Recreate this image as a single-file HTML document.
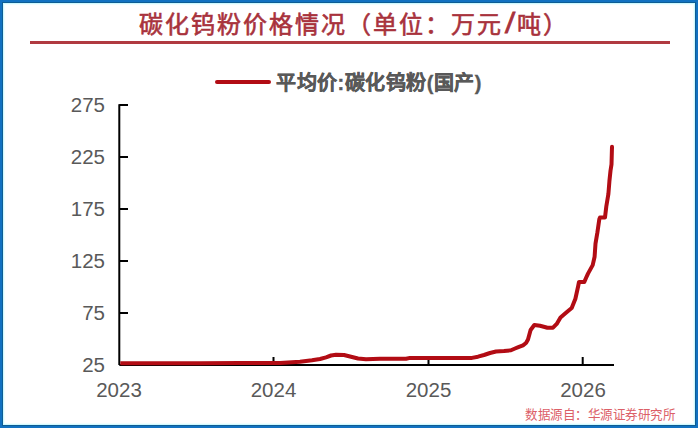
<!DOCTYPE html>
<html lang="zh-CN">
<head>
<meta charset="utf-8">
<style>
html,body{margin:0;padding:0;}
body{width:698px;height:428px;overflow:hidden;background:#1171c1;position:relative;font-family:"Liberation Sans",sans-serif;}
#edge{position:absolute;left:2px;top:2px;width:694px;height:424px;background:#0d5d94;}
#inner{position:absolute;left:3px;top:3px;width:692px;height:422px;background:#fff;box-shadow:inset 0 0 0 1px #cff9ff, inset 0 0 1px 2px #effeff;}
.t{position:absolute;white-space:nowrap;}
#title{left:139px;top:9.5px;font-family:"Liberation Serif",serif;font-weight:normal;-webkit-text-stroke:0.6px #a8323c;font-size:24px;letter-spacing:2px;color:#a8323c;line-height:30px;}
#title .sl{display:inline-block;width:14px;text-align:center;letter-spacing:0;font-size:24px;transform:translateY(-1.5px) scale(1.45,1.3);transform-origin:50% 60%;font-weight:bold;}
#rule{position:absolute;left:30px;top:41px;width:640px;height:3px;background:#b03a40;}
#legline{position:absolute;left:215px;top:80px;width:55.5px;height:4px;border-radius:2px;background:#b20c14;}
#legtext{left:276px;top:70px;font-size:20px;font-weight:bold;color:#595959;-webkit-text-stroke:0.35px #595959;line-height:26px;letter-spacing:0.5px;}
.yl{position:absolute;right:593px;font-size:20.5px;color:#595959;line-height:20px;text-align:right;}
.xl{position:absolute;font-size:20.5px;color:#595959;line-height:20px;width:60px;text-align:center;top:380px;}
#src{left:525px;top:406.5px;font-size:13px;color:#dc6068;line-height:16px;transform:scaleX(0.965);transform-origin:0 0;}
svg{position:absolute;left:0;top:0;}
</style>
</head>
<body>
<div id="edge"></div>
<div id="inner"></div>
<div class="t" id="title">碳化钨粉价格情况（单位：万元<span class="sl">/</span>吨）</div>
<div id="rule"></div>
<div id="legline"></div>
<div class="t" id="legtext">平均价:碳化钨粉(国产)</div>
<div class="yl" style="top:95px">275</div>
<div class="yl" style="top:147px">225</div>
<div class="yl" style="top:199px">175</div>
<div class="yl" style="top:251px">125</div>
<div class="yl" style="top:303px">75</div>
<div class="yl" style="top:355px">25</div>
<div class="xl" style="left:89px">2023</div>
<div class="xl" style="left:243.5px">2024</div>
<div class="xl" style="left:398.5px">2025</div>
<div class="xl" style="left:553px">2026</div>
<svg width="698" height="428" viewBox="0 0 698 428">
<g stroke="#000" stroke-width="2" fill="none">
<path d="M119.3 104.2 V365 M119.3 365 H614"/>
<path d="M119.3 105.1 H128 M119.3 157 H128 M119.3 209 H128 M119.3 261 H128 M119.3 313 H128"/>
<path d="M273.5 357 V365 M428.5 357 V365 M582.7 357 V365"/>
</g>
<path stroke="#b20c14" stroke-width="4" fill="none" stroke-linejoin="round" stroke-linecap="butt"
d="M120.3 363.3 L160 363.2 L200 363.2 L240 363.1 L280 362.9 L300 361.8 L312 360.3 L320 359 L326 357.3 L331 355.5 L336 354.8 L344 355 L350 356.5 L358 358.5 L366 359.3 L380 358.8 L390 358.8 L406 358.7 L410 357.9 L472 357.9 L478 356.7 L484 355 L490 353 L496 351.5 L504 351 L511 350.3 L515 348.5 L519 346.8 L523 345.3 L526 343 L528 339.5 L530.6 330 L534.3 325 L540 325.8 L547.4 327.7 L553 327.7 L556.7 323.9 L560.5 317.4 L566 312.7 L571.7 308 L575.4 298.7 L578.2 286 L579 282 L584.3 282 L586 278 L588 273.6 L592.7 265.1 L594.6 256.7 L595.5 243.6 L597.4 232.4 L599.3 219.3 L600 217.5 L605 217.5 L606.3 206.5 L608.4 193.9 L609.4 181.3 L610.5 170.7 L611.5 164.4 L612 146.8"/>
<circle cx="612" cy="146.8" r="2" fill="#b20c14"/>
</svg>
<div class="t" id="src">数据源自：华源证券研究所</div>
</body>
</html>
